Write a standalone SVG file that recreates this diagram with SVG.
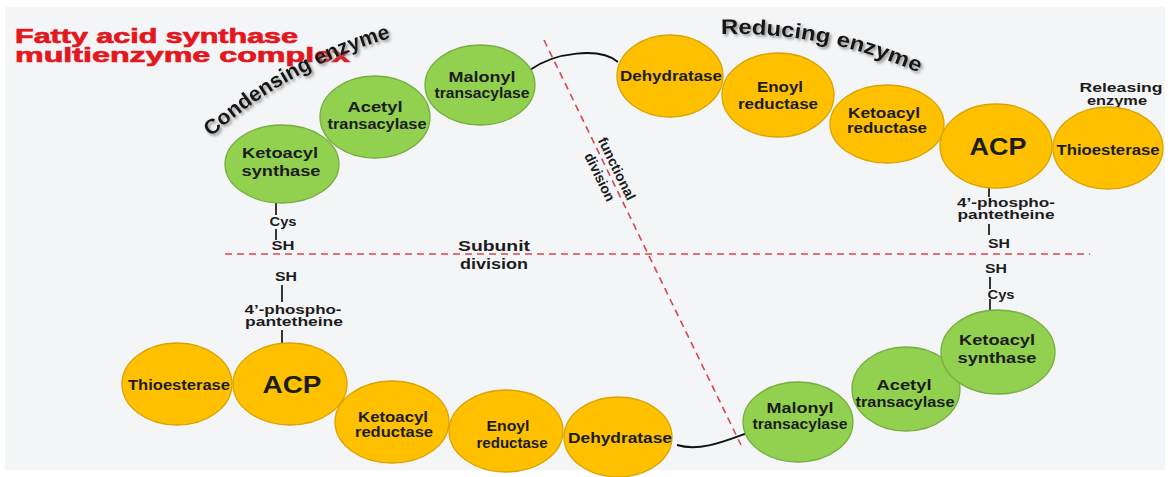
<svg xmlns="http://www.w3.org/2000/svg" width="1171" height="477" viewBox="0 0 1171 477">
<style>
.y{fill:#FFC000;stroke:#D9A300;stroke-width:1.3}
.g{fill:#92D050;stroke:#76AD3C;stroke-width:1.3}
.t{font-family:"Liberation Sans",Arial,sans-serif;font-weight:bold;font-size:14px;fill:#1c1c1c;text-anchor:middle}
.acp{font-size:24px}
.s{font-size:12px}
.r{font-size:13px}
.dash{stroke:#D8474F;stroke-width:1.6;stroke-dasharray:7 5;fill:none}
.conn{stroke:#111;stroke-width:2;fill:none}
.stemline{stroke:#222;stroke-width:1.8}
.title{font-family:"Liberation Sans",Arial,sans-serif;font-weight:bold;font-size:21px;fill:#E3181F;stroke:#E3181F;stroke-width:0.7}
.arc{font-family:"Liberation Sans",Arial,sans-serif;font-weight:bold;font-size:21px;fill:#151515}
</style>
<defs>
<filter id="sh" x="-10%" y="-30%" width="120%" height="160%">
<feDropShadow dx="2" dy="2" stdDeviation="1.5" flood-color="#777" flood-opacity="0.8"/>
</filter>
<path id="arcC" d="M 211 137 A 456 456 0 0 1 402 35"/>
<path id="arcR" d="M 721 34 A 463 463 0 0 1 926 76"/>
</defs>
<rect x="0" y="0" width="1171" height="477" fill="#FFFFFF"/>
<rect x="5" y="7" width="1160" height="463" fill="#F4F5F7"/>

<g id="title">
<text class="title" x="15" y="43" textLength="283" lengthAdjust="spacingAndGlyphs">Fatty acid synthase</text>
<text class="title" x="15" y="62" textLength="335" lengthAdjust="spacingAndGlyphs">multienzyme complex</text>
</g>

<g id="connectors">
<path class="dash" d="M 225 254 H 1090"/>
<path class="dash" d="M 544 40 L 741 445"/>
<path class="conn" d="M 530 70 C 555 52, 600 47, 618 62"/>
<path class="conn" d="M 677 445 C 700 452, 725 441, 750 432"/>
<line class="stemline" x1="276" y1="203" x2="276" y2="215"/>
<line class="stemline" x1="276" y1="229" x2="276" y2="240"/>
<line class="stemline" x1="282" y1="285" x2="282" y2="302"/>
<line class="stemline" x1="282" y1="330" x2="282" y2="343"/>
<line class="stemline" x1="989" y1="188" x2="989" y2="197"/>
<line class="stemline" x1="989" y1="224" x2="989" y2="235"/>
<line class="stemline" x1="990" y1="277" x2="990" y2="289"/>
<line class="stemline" x1="990" y1="299" x2="990" y2="311"/>
</g>

<g id="labels">
<text class="arc" filter="url(#sh)"><textPath href="#arcC" textLength="207" lengthAdjust="spacingAndGlyphs">Condensing enzyme</textPath></text>
<text class="arc" filter="url(#sh)"><textPath href="#arcR" textLength="203" lengthAdjust="spacingAndGlyphs">Reducing enzyme</textPath></text>
<text class="t r" x="1121" y="92" textLength="83" lengthAdjust="spacingAndGlyphs">Releasing</text>
<text class="t r" x="1117" y="105" textLength="60" lengthAdjust="spacingAndGlyphs">enzyme</text>
<text class="t" x="494" y="251" textLength="72" lengthAdjust="spacingAndGlyphs">Subunit</text>
<text class="t" x="494" y="269" textLength="68" lengthAdjust="spacingAndGlyphs">division</text>
<g transform="translate(608,173) rotate(64)">
<text class="t" x="0" y="-5" textLength="68" lengthAdjust="spacingAndGlyphs">functional</text>
<text class="t" x="0" y="14" textLength="52" lengthAdjust="spacingAndGlyphs">division</text>
</g>
<text class="t s" x="283" y="226" textLength="27" lengthAdjust="spacingAndGlyphs">Cys</text>
<text class="t s" x="283" y="250" textLength="23" lengthAdjust="spacingAndGlyphs">SH</text>
<text class="t s" x="286" y="281" textLength="22" lengthAdjust="spacingAndGlyphs">SH</text>
<text class="t s" x="293" y="314" textLength="97" lengthAdjust="spacingAndGlyphs">4’-phospho-</text>
<text class="t s" x="294" y="326" textLength="98" lengthAdjust="spacingAndGlyphs">pantetheine</text>
<text class="t s" x="1006" y="207" textLength="98" lengthAdjust="spacingAndGlyphs">4’-phospho-</text>
<text class="t s" x="1006" y="219" textLength="97" lengthAdjust="spacingAndGlyphs">pantetheine</text>
<text class="t s" x="999" y="248" textLength="22" lengthAdjust="spacingAndGlyphs">SH</text>
<text class="t s" x="996" y="273" textLength="22" lengthAdjust="spacingAndGlyphs">SH</text>
<text class="t s" x="1001" y="299" textLength="27" lengthAdjust="spacingAndGlyphs">Cys</text>
</g>

<g id="ketoacyl-synthase-top">
<ellipse class="g" cx="282" cy="164" rx="57" ry="39"/>
<text class="t" x="280" y="158" textLength="76" lengthAdjust="spacingAndGlyphs">Ketoacyl</text>
<text class="t" x="281" y="176" textLength="79" lengthAdjust="spacingAndGlyphs">synthase</text>
</g>
<g id="acetyl-transacylase-top">
<ellipse class="g" cx="375" cy="117" rx="55" ry="41"/>
<text class="t" x="375" y="112" textLength="55" lengthAdjust="spacingAndGlyphs">Acetyl</text>
<text class="t" x="377" y="129" textLength="99" lengthAdjust="spacingAndGlyphs">transacylase</text>
</g>
<g id="malonyl-transacylase-top">
<ellipse class="g" cx="480" cy="85" rx="55" ry="40"/>
<text class="t" x="482" y="82" textLength="67" lengthAdjust="spacingAndGlyphs">Malonyl</text>
<text class="t" x="482" y="98" textLength="95" lengthAdjust="spacingAndGlyphs">transacylase</text>
</g>
<g id="dehydratase-top">
<ellipse class="y" cx="670" cy="76" rx="53" ry="41"/>
<text class="t" x="671" y="81" textLength="102" lengthAdjust="spacingAndGlyphs">Dehydratase</text>
</g>
<g id="enoyl-reductase-top">
<ellipse class="y" cx="778" cy="95" rx="56" ry="42"/>
<text class="t" x="780" y="92" textLength="46" lengthAdjust="spacingAndGlyphs">Enoyl</text>
<text class="t" x="778" y="109" textLength="80" lengthAdjust="spacingAndGlyphs">reductase</text>
</g>
<g id="ketoacyl-reductase-top">
<ellipse class="y" cx="887" cy="124" rx="57" ry="39"/>
<text class="t" x="884" y="118" textLength="72" lengthAdjust="spacingAndGlyphs">Ketoacyl</text>
<text class="t" x="887" y="133" textLength="80" lengthAdjust="spacingAndGlyphs">reductase</text>
</g>
<g id="acp-top">
<ellipse class="y" cx="996" cy="146" rx="56" ry="42"/>
<text class="t acp" x="998" y="155" textLength="57" lengthAdjust="spacingAndGlyphs">ACP</text>
</g>
<g id="thioesterase-top">
<ellipse class="y" cx="1108" cy="148" rx="55" ry="41"/>
<text class="t" x="1108" y="155" textLength="103" lengthAdjust="spacingAndGlyphs">Thioesterase</text>
</g>

<g id="thioesterase-bottom">
<ellipse class="y" cx="177" cy="384" rx="55" ry="41"/>
<text class="t" x="179" y="390" textLength="102" lengthAdjust="spacingAndGlyphs">Thioesterase</text>
</g>
<g id="acp-bottom">
<ellipse class="y" cx="290" cy="384" rx="57" ry="41"/>
<text class="t acp" x="292" y="393" textLength="59" lengthAdjust="spacingAndGlyphs">ACP</text>
</g>
<g id="ketoacyl-reductase-bottom">
<ellipse class="y" cx="392" cy="422" rx="57" ry="41"/>
<text class="t" x="393" y="422" textLength="70" lengthAdjust="spacingAndGlyphs">Ketoacyl</text>
<text class="t" x="394" y="437" textLength="78" lengthAdjust="spacingAndGlyphs">reductase</text>
</g>
<g id="enoyl-reductase-bottom">
<ellipse class="y" cx="506" cy="431" rx="57" ry="41"/>
<text class="t" x="508" y="431" textLength="43" lengthAdjust="spacingAndGlyphs">Enoyl</text>
<text class="t" x="512" y="448" textLength="71" lengthAdjust="spacingAndGlyphs">reductase</text>
</g>
<g id="dehydratase-bottom">
<ellipse class="y" cx="618" cy="437" rx="54" ry="40"/>
<text class="t" x="620" y="443" textLength="104" lengthAdjust="spacingAndGlyphs">Dehydratase</text>
</g>
<g id="malonyl-transacylase-bottom">
<ellipse class="g" cx="798" cy="422" rx="55" ry="40"/>
<text class="t" x="800" y="413" textLength="67" lengthAdjust="spacingAndGlyphs">Malonyl</text>
<text class="t" x="800" y="429" textLength="95" lengthAdjust="spacingAndGlyphs">transacylase</text>
</g>
<g id="acetyl-transacylase-bottom">
<ellipse class="g" cx="906" cy="389" rx="54" ry="42"/>
<text class="t" x="904" y="390" textLength="55" lengthAdjust="spacingAndGlyphs">Acetyl</text>
<text class="t" x="905" y="407" textLength="99" lengthAdjust="spacingAndGlyphs">transacylase</text>
</g>
<g id="ketoacyl-synthase-bottom">
<ellipse class="g" cx="998" cy="352" rx="57" ry="42"/>
<text class="t" x="997" y="345" textLength="76" lengthAdjust="spacingAndGlyphs">Ketoacyl</text>
<text class="t" x="997" y="363" textLength="79" lengthAdjust="spacingAndGlyphs">synthase</text>
</g>
</svg>
